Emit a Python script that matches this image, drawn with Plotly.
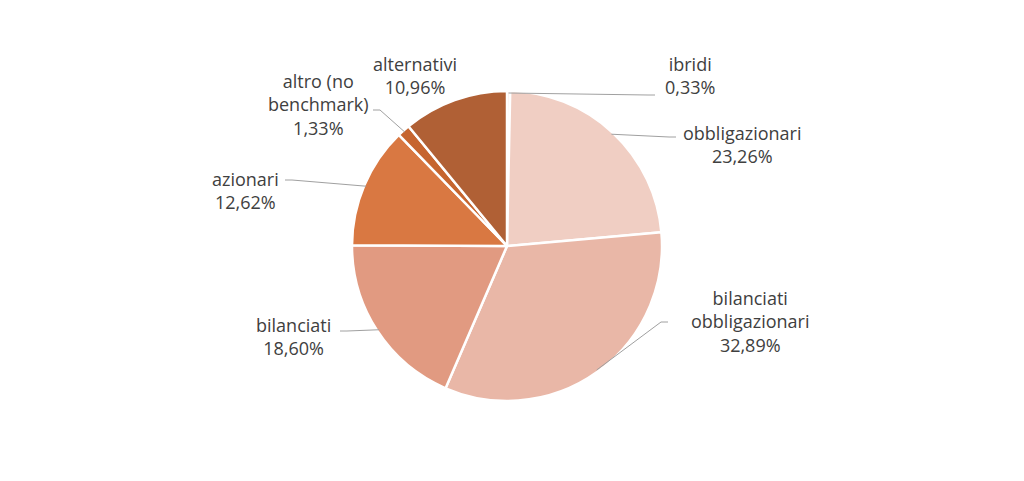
import math
import plotly.graph_objects as go

# Dati
categorie = ['ibridi', 'obbligazionari', 'bilanciati<br>obbligazionari', 'bilanciati',
             'azionari', 'altro (no<br>benchmark)', 'alternativi']
valori = [0.33, 23.26, 32.89, 18.60, 12.62, 1.33, 10.96]
colori = ['#F6E2DA', '#F0CEC3', '#E9B7A7', '#E19A81', '#D97842', '#C6652F', '#B06035']

W, H = 1024, 481
cx, cy, r = 507, 246, 155

# posizione etichette (pixel) e punto di arrivo della linea guida
etichette = [
    (690, 75, 655, 95),
    (742, 144, 676, 137),
    (750, 321, 668, 322),
    (293, 336, 340, 331),
    (245, 190, 285, 180),
    (318, 105, 373, 110),
    (415, 75, None, None),
]

fig = go.Figure()
fig.add_trace(go.Pie(
    labels=categorie, values=valori, sort=False, direction='clockwise',
    marker=dict(colors=colori, line=dict(color='white', width=2.5)),
    textinfo='none', hoverinfo='label+percent', showlegend=False,
    domain=dict(x=[(cx - r) / W, (cx + r) / W], y=[1 - (cy + r) / H, 1 - (cy - r) / H]),
))

px = lambda x: x / W
py = lambda y: 1 - y / H

cum = 0
for nome, v, (lx, ly, ex, ey) in zip(categorie, valori, etichette):
    ang = math.radians(90 - 360 * (cum + v / 2) / 100)
    cum += v
    testo = nome + '<br>' + f'{v:.2f}'.replace('.', ',') + '%'
    fig.add_annotation(x=px(lx), y=py(ly), xref='paper', yref='paper', text=testo,
                       xanchor='center', yanchor='middle', showarrow=False,
                       font=dict(family='Open Sans', size=18, color='#404040'),
                       align='center')
    if ex is not None:
        tx = cx + (r - 2) * math.cos(ang)
        ty = cy - (r - 2) * math.sin(ang)
        dx = 7 if ex > cx else -7
        fig.add_shape(type='path', xref='paper', yref='paper',
                      path=f'M {px(tx)} {py(ty)} L {px(ex - dx)} {py(ey)} L {px(ex)} {py(ey)}',
                      line=dict(color='#A0A0A0', width=1))

fig.update_layout(width=W, height=H, margin=dict(l=0, r=0, t=0, b=0),
                  paper_bgcolor='white', plot_bgcolor='white')
fig.write_html('out.html', config={'displayModeBar': False},
               post_script="document.body.style.margin='0';")
